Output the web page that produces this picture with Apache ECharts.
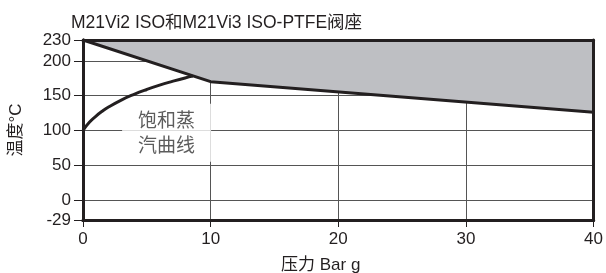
<!DOCTYPE html>
<html>
<head>
<meta charset="utf-8">
<script src="https://cdn.jsdelivr.net/npm/echarts@6/dist/echarts.min.js"></script>
<style>
  html, body { margin: 0; padding: 0; background: #fff; }
  #box { width: 606px; height: 273px; }
</style>
</head>
<body>
<div id="box"></div>
<script>
// 阀座上限 (压力 bar g, 温度 °C)
var limitP = [0, 10, 40];
var limitT = [230, 170, 126];
// 饱和蒸汽曲线
var steamP = [0, 0.5, 1, 1.5, 2, 3, 4, 5, 6, 7, 8, 8.6];
var steamT = [100, 111.6, 120.2, 127.4, 133.5, 143.6, 151.8, 158.8, 165, 170.4, 175.4, 178];
var steamLabelPos = [6.55, 96.5];
var yMin = -29, yMax = 230;

var font = '"Liberation Sans", Arial, "Noto Sans CJK SC", sans-serif';
var ink = '#231f20';

function pairs(xs, ys) {
    return xs.map(function (v, i) { return [v, ys[i]]; });
}

// 只画边框的坐标轴
function frameAxis(pos, min, max) {
    return {
        type: 'value',
        position: pos,
        min: min,
        max: max,
        z: 10,
        axisLine: { show: true, onZero: false, lineStyle: { color: ink, width: 3 } },
        axisTick: { show: false },
        axisLabel: { show: false },
        splitLine: { show: false }
    };
}

var myCharts = echarts.init(document.getElementById('box'));
var option = {
    animation: false,
    textStyle: { fontFamily: font },
    title: [
        {
            text: 'M21Vi2 ISO和M21Vi3 ISO-PTFE阀座',
            left: 66,
            top: 9,
            textStyle: { color: ink, fontSize: 17.5, fontWeight: 'normal', fontFamily: font }
        },
        {
            text: '压力 Bar g',
            left: 276,
            top: 252,
            textStyle: { color: ink, fontSize: 17, fontWeight: 'normal', fontFamily: font }
        }
    ],
    grid: { left: 82, right: 5, top: 40, bottom: 53 },
    xAxis: [
        {
            type: 'value',
            min: 0,
            max: 40,
            interval: 10,
            axisLine: { onZero: false, lineStyle: { color: ink, width: 3 } },
            axisTick: { show: true, length: 7, lineStyle: { color: ink, width: 1 } },
            axisLabel: { color: ink, fontSize: 17, margin: 11, fontFamily: font },
            splitLine: { show: true, lineStyle: { color: '#555', width: 1 } }
        },
        frameAxis('top', 0, 40),
        frameAxis('bottom', 0, 40)
    ],
    yAxis: [
        {
            type: 'value',
            min: yMin,
            max: yMax,
            name: '温度°C',
            nameLocation: 'middle',
            nameRotate: 90,
            nameGap: 58,
            nameTextStyle: { color: ink, fontSize: 17, fontFamily: font },
            axisLine: { show: true, onZero: false, lineStyle: { color: ink, width: 3 } },
            axisTick: { show: true, length: 9, lineStyle: { color: ink, width: 1 } },
            axisLabel: { color: ink, fontSize: 17, margin: 12, fontFamily: font },
            splitLine: { show: true, lineStyle: { color: '#555', width: 1 } }
        },
        frameAxis('right', yMin, yMax),
        frameAxis('left', yMin, yMax)
    ],
    series: [
        {
            name: '阀座上限',
            type: 'line',
            data: pairs(limitP, limitT),
            symbol: 'none',
            lineStyle: { color: ink, width: 3 },
            areaStyle: { color: '#bebfc3', opacity: 1, origin: 'end' },
            z: 3
        },
        {
            name: '饱和蒸汽曲线',
            type: 'line',
            data: pairs(steamP, steamT),
            smooth: true,
            symbol: 'none',
            lineStyle: { color: ink, width: 3 },
            z: 4
        },
        {
            name: 'label',
            type: 'scatter',
            data: [steamLabelPos],
            symbolSize: 0,
            silent: true,
            label: {
                show: true,
                position: 'inside',
                formatter: '饱和蒸\n汽曲线',
                color: '#333',
                fontSize: 19,
                lineHeight: 25,
                fontFamily: '"Noto Sans CJK SC", sans-serif',
                backgroundColor: '#fff',
                padding: [4, 16]
            },
            z: 5
        }
    ]
};
myCharts.setOption(option);
</script>
</body>
</html>
